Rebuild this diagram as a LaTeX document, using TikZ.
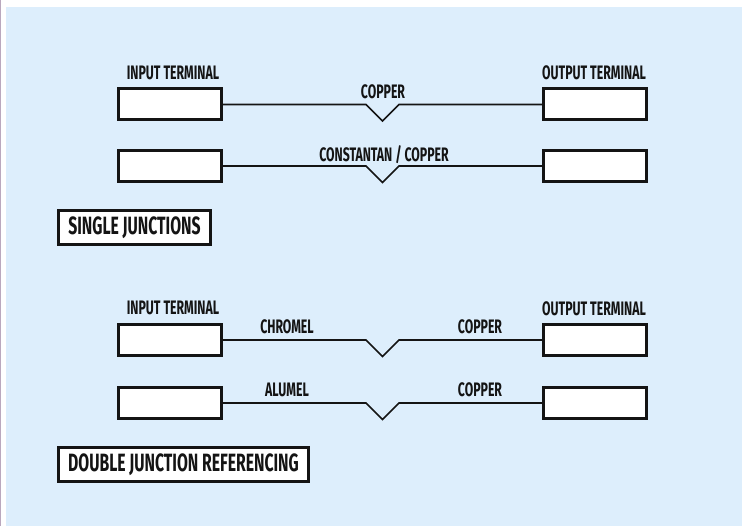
\documentclass[tikz,border=0pt]{standalone}
\usepackage{fontspec}
\setmainfont{Fira Sans}[FakeStretch=0.63]
\definecolor{bgblue}{RGB}{221,238,252}
\definecolor{edgegrey}{RGB}{185,168,190}
\definecolor{ink}{RGB}{20,20,20}
\tikzset{
  termbox/.style={draw=ink, fill=white, line width=3pt, minimum width=103pt, minimum height=31pt, inner sep=0pt, outer sep=0pt},
  titlebox/.style={draw=ink, fill=white, line width=3pt, minimum height=34pt, inner sep=0pt, outer sep=0pt, font=\fontsize{25}{25}\selectfont\bfseries, text=ink},
  lbl/.style={font=\fontsize{19.5}{19.5}\selectfont\bfseries, text=ink, inner sep=0pt},
  wire/.style={draw=ink, line width=1.6pt, line join=miter}
}
\begin{document}
\begin{tikzpicture}[x=1pt,y=-1pt]
\useasboundingbox (0,0) rectangle (742,526);
\fill[white] (0,0) rectangle (742,526);
\fill[bgblue] (6,7) rectangle (742,526);
\fill[edgegrey] (0,0) rectangle (1.3,526);

% ---- single junctions ----
\node[lbl] (inlbl1) at (173,73) {INPUT TERMINAL};
\node[lbl] (outlbl1) at (594,73) {OUTPUT TERMINAL};
\node[termbox] (in1) at (170,104.5) {};
\node[termbox] (out1) at (594.5,104.5) {};
\node[termbox] (in2) at (170,166) {};
\node[termbox] (out2) at (594.5,166) {};
\draw[wire] (in1.east) -- (366,104.5) -- (382.5,121) -- (399,104.5) -- (out1.west);
\draw[wire] (in2.east) -- (366,166) -- (382.5,182.5) -- (399,166) -- (out2.west);
\node[lbl] (cu1) at (383,92) {COPPER};
\node[lbl] (cc1) at (384,155) {CONSTANTAN / COPPER};
\node[titlebox, minimum width=152pt] (single) at (134.5,228) {SINGLE JUNCTIONS};

% ---- double junction referencing ----
\node[lbl] (inlbl2) at (173,308) {INPUT TERMINAL};
\node[lbl] (outlbl2) at (594,309) {OUTPUT TERMINAL};
\node[termbox] (in3) at (170,340) {};
\node[termbox] (out3) at (594.5,340) {};
\node[termbox] (in4) at (170,403) {};
\node[termbox] (out4) at (594.5,403) {};
\draw[wire] (in3.east) -- (366,340) -- (382.5,356.5) -- (399,340) -- (out3.west);
\draw[wire] (in4.east) -- (366,403) -- (382.5,419.5) -- (399,403) -- (out4.west);
\node[lbl] (chromel) at (287,327) {CHROMEL};
\node[lbl] (alumel) at (287,390) {ALUMEL};
\node[lbl] (cu3) at (480,327) {COPPER};
\node[lbl] (cu4) at (480,390) {COPPER};
\node[titlebox, minimum width=250pt] (double) at (183.5,464.5) {DOUBLE JUNCTION REFERENCING};
\end{tikzpicture}
\end{document}
